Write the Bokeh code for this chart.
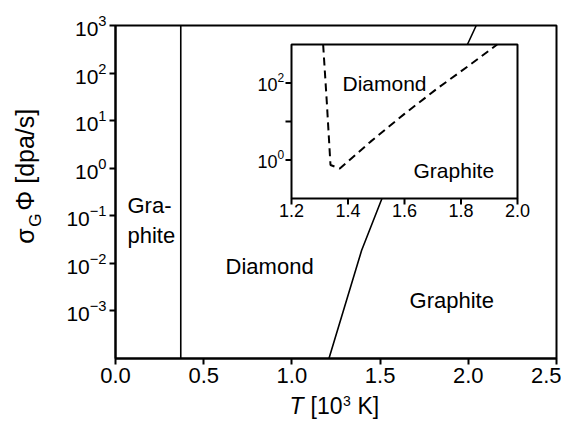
import math
from bokeh.plotting import figure
from bokeh.layouts import row, column
from bokeh.models import Range1d, FixedTicker, PrintfTickFormatter, LogScale
from bokeh.embed import file_html
from bokeh.resources import INLINE
from bokeh.core.properties import value

FONT = "Liberation Sans"

# ---------------- data ----------------
x_ticks = [0.0, 0.5, 1.0, 1.5, 2.0, 2.5]
y_ticks = [1e-3, 1e-2, 1e-1, 1e0, 1e1, 1e2, 1e3]
x_limits = [0.0, 2.5]
y_limits = [1e-4, 1e3]

graphite_limit_T = [0.37, 0.37]
graphite_limit_rate = [1e-4, 1e3]

boundary_T = [1.21, 1.395, 1.51, 1.995, 2.045]
boundary_rate = [1e-4, 0.0186, 0.229, 398.0, 1000.0]

inset_x_limits = [1.2, 2.0]
inset_y_limits = [0.1, 1000.0]
inset_x_ticks = [1.2, 1.4, 1.6, 1.8, 2.0]
inset_x_labels = ["1.2", "1.4", "1.6", "1.8", "2.0"]
inset_y_ticks = [1.0, 10.0, 100.0]
inset_y_label_vals = [1.0, 100.0]
inset_y_label_exps = ["0", "2"]

inset_T = [1.312, 1.325, 1.338, 1.371, 1.48, 1.60, 1.716, 1.83, 1.928]
inset_rate = [1000.0, 31.6, 0.74, 0.60, 3.0, 15.8, 72.0, 290.0, 1000.0]

# ---------------- layout (pixels) ----------------
TOTAL_W, TOTAL_H = 561, 419
YT_W = 50                       # strip holding the y title
ROW_H = 392                     # height of main row
XT_H = TOTAL_H - ROW_H          # strip holding the x title
PW = TOTAL_W - YT_W
FL, FR, FT, FB = 65, 506, 25, 358      # main frame inside the main figure
IL, IR, IT, IB = 241, 467, 44, 198     # inset box inside the main figure

p = figure(width=PW, height=ROW_H, x_range=Range1d(*x_limits), y_range=Range1d(*y_limits),
           y_axis_type="log", output_backend="svg", toolbar_location=None,
           min_border_left=FL, min_border_right=PW - FR,
           min_border_top=FT, min_border_bottom=ROW_H - FB)
p.background_fill_color = "white"
p.border_fill_color = "white"
p.xgrid.visible = False
p.ygrid.visible = False
p.outline_line_color = "black"
p.outline_line_width = 2
p.outline_line_alpha = 1

for ax in (p.xaxis[0], p.yaxis[0]):
    ax.axis_line_width = 2
    ax.axis_line_color = "black"
    ax.major_tick_line_width = 2
    ax.major_tick_line_color = "black"
    ax.major_tick_out = 6
    ax.major_tick_in = 0
    ax.minor_tick_out = 0
    ax.minor_tick_in = 0
    ax.major_label_text_font = FONT
    ax.major_label_text_color = "black"

p.xaxis.ticker = FixedTicker(ticks=x_ticks, minor_ticks=[])
p.xaxis.formatter = PrintfTickFormatter(format="%.1f")
p.xaxis.major_label_text_font_size = "22px"
p.xaxis.major_label_standoff = 3
p.yaxis.ticker = FixedTicker(ticks=y_ticks, minor_ticks=[])
p.yaxis.major_label_text_font_size = "21px"
p.yaxis.major_label_standoff = 3

# main curves
p.line(graphite_limit_T, graphite_limit_rate, line_color="black", line_width=1.6)
p.line(boundary_T, boundary_rate, line_color="black", line_width=1.6)

# main texts (anchored at the vertical middle of the capitals)
TXT = dict(text_font=value(FONT), text_font_size=value("22px"), text_color="black",
           text_align="left", text_baseline="middle")
p.text(x=[0.068], y=[0.1607], text=["Gra-"], **TXT)
p.text(x=[0.068], y=[0.0376], text=["phite"], **TXT)
p.text(x=[0.624], y=[0.00859], text=["Diamond"], **TXT)
p.text(x=[1.667], y=[0.001618], text=["Graphite"], **TXT)

# ---------------- inset (own ranges mapped onto the inset box) ----------------
kx = (inset_x_limits[1] - inset_x_limits[0]) / (IR - IL)
ix0 = inset_x_limits[0] - (IL - FL) * kx
ix1 = inset_x_limits[1] + (FR - IR) * kx
ly0, ly1 = math.log10(inset_y_limits[0]), math.log10(inset_y_limits[1])
ky = (ly1 - ly0) / (IB - IT)
iy1 = ly1 + (IT - FT) * ky
iy0 = ly0 - (FB - IB) * ky
p.extra_x_ranges = {"ix": Range1d(ix0, ix1)}
p.extra_y_ranges = {"iy": Range1d(10 ** iy0, 10 ** iy1)}
p.extra_y_scales = {"iy": LogScale()}
R = dict(x_range_name="ix", y_range_name="iy")

p.quad(left=[inset_x_limits[0]], right=[inset_x_limits[1]],
       bottom=[inset_y_limits[0]], top=[inset_y_limits[1]],
       fill_color="white", line_color="black", line_width=2, **R)
p.line(inset_T, inset_rate, line_color="black", line_width=2, line_dash="8 5", **R)

p.ray(x=[inset_x_limits[0]] * len(inset_y_ticks), y=inset_y_ticks, length=6,
      length_units="screen", angle=math.pi, line_color="black", line_width=2, **R)
p.ray(x=inset_x_ticks, y=[inset_y_limits[0]] * len(inset_x_ticks), length=6,
      length_units="screen", angle=-math.pi / 2, line_color="black", line_width=2, **R)

p.text(x=inset_x_ticks, y=[inset_y_limits[0]] * len(inset_x_ticks), text=inset_x_labels,
       text_font=value(FONT), text_font_size=value("18px"), text_color="black",
       text_align="center", text_baseline="top", y_offset=5, **R)
p.text(x=[inset_x_limits[0]] * 2, y=inset_y_label_vals, text=["10", "10"],
       text_font=value(FONT), text_font_size=value("18px"), text_color="black",
       text_align="right", text_baseline="middle", x_offset=-14, y_offset=1, **R)
p.text(x=[inset_x_limits[0]] * 2, y=inset_y_label_vals, text=inset_y_label_exps,
       text_font=value(FONT), text_font_size=value("12px"), text_color="black",
       text_align="left", text_baseline="middle", x_offset=-14, y_offset=-6, **R)

TXT_I = dict(TXT, text_font_size=value("21px"))
p.text(x=[1.3805], y=[97.1], text=["Diamond"], **TXT_I, **R)
p.text(x=[1.632], y=[0.549], text=["Graphite"], **TXT_I, **R)


# ---------------- axis title strips (pixel coordinates, y downward) ----------------
def strip(w, h, x0, y0):
    f = figure(width=w, height=h, x_range=Range1d(x0, x0 + w), y_range=Range1d(y0 + h, y0),
               output_backend="svg", toolbar_location=None,
               x_axis_location=None, y_axis_location=None, min_border=0)
    f.xgrid.visible = False
    f.ygrid.visible = False
    f.outline_line_color = None
    f.background_fill_color = "white"
    f.border_fill_color = "white"
    return f


def put(f, txt, x, y, size, style="normal", angle=0.0):
    f.text(x=[x], y=[y], text=[txt], text_font=value(FONT), text_font_size=value(size),
           text_font_style=style, text_color="black", text_align="left",
           text_baseline="middle", angle=angle)


yt = strip(YT_W, ROW_H, 0, 0)
put(yt, "σ", 24, 257, "25px", angle=math.pi / 2)
put(yt, "G", 35, 237, "17px", angle=math.pi / 2)
put(yt, "Φ [dpa/s]", 24, 218, "25px", angle=math.pi / 2)

xt = strip(TOTAL_W, XT_H, 0, ROW_H)
put(xt, "T", 289, 405.5, "23px", "italic")
put(xt, "[10", 310, 405.5, "23px")
put(xt, "3", 342.5, 400, "14px")
put(xt, "K]", 357, 405.5, "23px")

layout = column(row(yt, p, spacing=0), xt, spacing=0)
open("out.html", "w").write(file_html(layout, INLINE))
